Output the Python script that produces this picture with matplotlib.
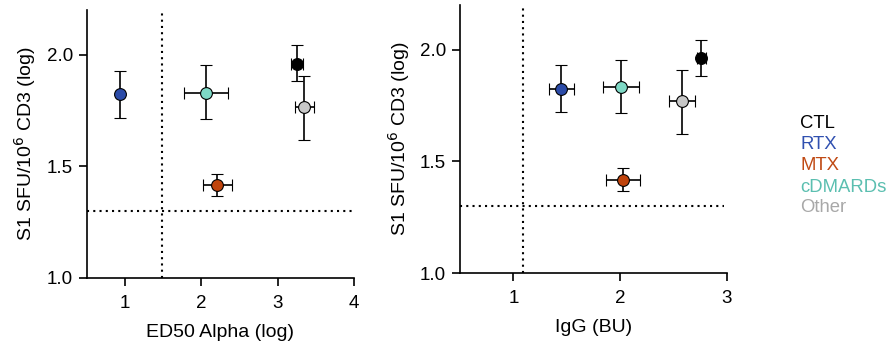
import matplotlib
matplotlib.use("Agg")
import matplotlib.pyplot as plt

plt.rcParams['font.family'] = ['Liberation Sans', 'DejaVu Sans']

groups = ["CTL", "RTX", "MTX", "cDMARDs", "Other"]
fill_colors = ["#000000", "#2B4BA8", "#C0440C", "#7ED9C6", "#C8C8C8"]
text_colors = ["#000000", "#3050B0", "#C04A14", "#5BBFB0", "#A8A8A8"]

# Left panel: ED50 Alpha (log)
ed50_x = [3.25, 0.93, 2.21, 2.06, 3.35]
ed50_xerr = [0.08, 0.0, 0.19, 0.29, 0.12]
ed50_y = [1.96, 1.823, 1.416, 1.83, 1.764]
ed50_yerr_lo = [0.08, 0.105, 0.05, 0.12, 0.145]
ed50_yerr_hi = [0.085, 0.105, 0.05, 0.125, 0.14]

# Right panel: IgG (BU)
igg_x = [2.76, 1.45, 2.03, 2.01, 2.58]
igg_xerr = [0.04, 0.12, 0.16, 0.17, 0.12]
igg_y = [1.965, 1.826, 1.416, 1.835, 1.768]
igg_yerr_lo = [0.085, 0.105, 0.05, 0.12, 0.146]
igg_yerr_hi = [0.08, 0.105, 0.055, 0.12, 0.142]

ylabel = "S1 SFU/10$^{6}$ CD3 (log)"

fig = plt.figure(figsize=(8.92, 3.54), dpi=100)
ax1 = fig.add_axes([0.0975, 0.2147, 0.2993, 0.757])
ax2 = fig.add_axes([0.5157, 0.2288, 0.2993, 0.757])


def draw(ax, xs, xerr, ys, ylo, yhi, xlim, xticks, xlabel, vline, hline_end):
    ax.axvline(vline, color="black", linestyle=(0, (1, 2)), lw=1.5, zorder=1)
    ax.plot([xlim[0], hline_end], [1.3, 1.3], color="black", linestyle=(0, (1, 2)), lw=1.5, zorder=1)
    for i in range(len(xs)):
        ax.errorbar(xs[i], ys[i], xerr=xerr[i] if xerr[i] > 0 else None,
                    yerr=[[ylo[i]], [yhi[i]]], fmt="o", ms=8.5,
                    mfc=fill_colors[i], mec="black", mew=0.8,
                    ecolor="black", elinewidth=1.2, capsize=4, capthick=1.2, zorder=3)
    ax.set_xlim(*xlim)
    ax.set_ylim(1.0, 2.2)
    ax.set_xticks(xticks)
    ax.set_yticks([1.0, 1.5, 2.0])
    ax.set_yticklabels(["1.0", "1.5", "2.0"])
    ax.spines["top"].set_visible(False)
    ax.spines["right"].set_visible(False)
    ax.spines["left"].set_linewidth(1.2)
    ax.spines["bottom"].set_linewidth(1.2)
    ax.tick_params(width=1.2, length=6, labelsize=13.5)
    ax.tick_params(axis="x", pad=6)
    ax.tick_params(axis="y", pad=4)
    ax.set_xlabel(xlabel, fontsize=14, labelpad=9)
    ax.set_ylabel(ylabel, fontsize=14, labelpad=6)


draw(ax1, ed50_x, ed50_xerr, ed50_y, ed50_yerr_lo, ed50_yerr_hi,
     (0.5, 4.0), [1, 2, 3, 4], "ED50 Alpha (log)", 1.485, 3.98)
draw(ax2, igg_x, igg_xerr, igg_y, igg_yerr_lo, igg_yerr_hi,
     (0.5, 3.0), [1, 2, 3], "IgG (BU)", 1.09, 2.97)

for i, g in enumerate(groups):
    fig.text(800 / 892, 1 - (124 + i * 21) / 354, g, color=text_colors[i],
             fontsize=13.3, va="center", ha="left")

fig.savefig("out.png", dpi=100)
